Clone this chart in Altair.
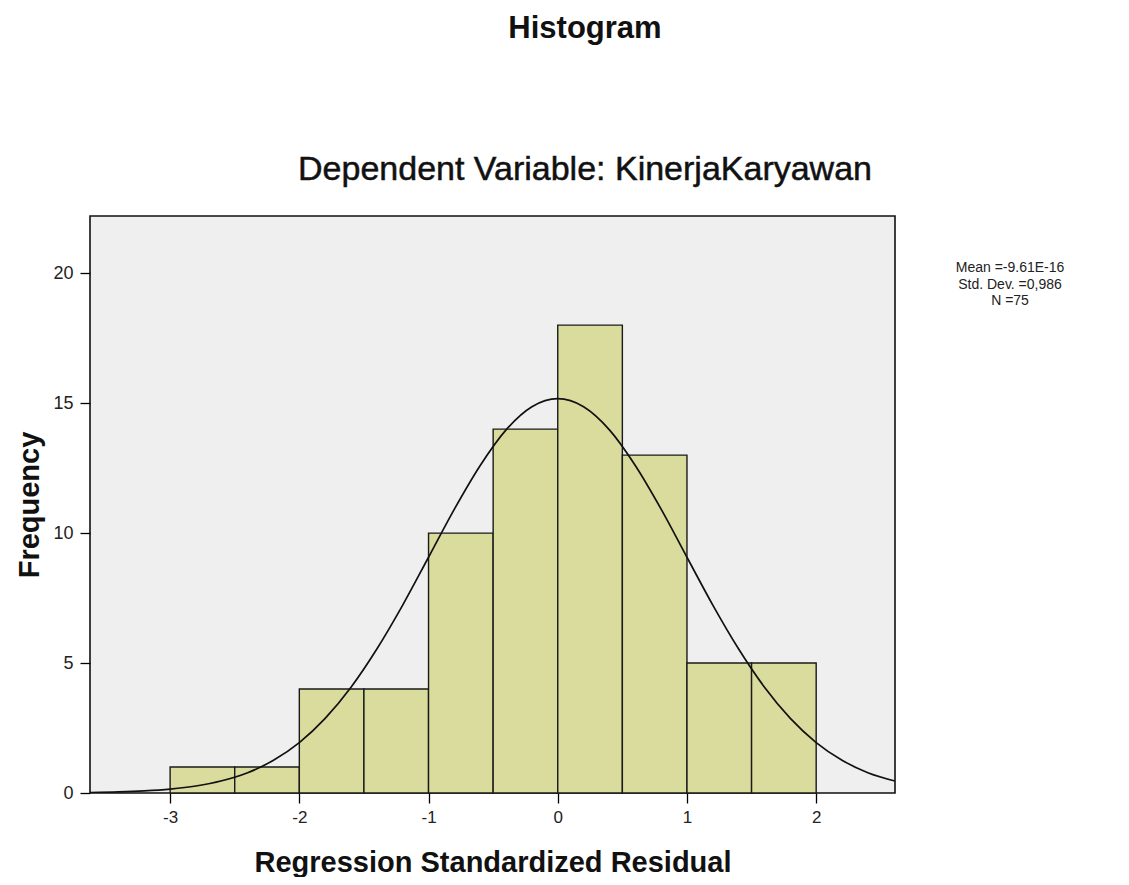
import altair as alt
import pandas as pd

# Histogram bins (lower edge, upper edge) and counts
bin_start = [-3.0, -2.5, -2.0, -1.5, -1.0, -0.5, 0.0, 0.5, 1.0, 1.5]
bin_end = [-2.5, -2.0, -1.5, -1.0, -0.5, 0.0, 0.5, 1.0, 1.5, 2.0]
counts = [1, 1, 4, 4, 10, 14, 18, 13, 5, 5]

# Normal curve
curve_x = [-3.62, -3.4, -3.2, -3.0, -2.8, -2.6, -2.4, -2.2, -2.0, -1.8, -1.6, -1.4, -1.2,
           -1.0, -0.8, -0.6, -0.4, -0.2, 0.0, 0.2, 0.4, 0.6, 0.8, 1.0, 1.2, 1.4, 1.6,
           1.8, 2.0, 2.2, 2.4, 2.61]
curve_y = [0.02, 0.04, 0.08, 0.15, 0.27, 0.47, 0.78, 1.26, 1.94, 2.87, 4.07, 5.54, 7.23,
           9.07, 10.92, 12.6, 13.97, 14.86, 15.17, 14.86, 13.97, 12.6, 10.92, 9.07, 7.23,
           5.54, 4.07, 2.87, 1.94, 1.26, 0.78, 0.46]

stats_lines = ["Mean =-9.61E-16", "Std. Dev. =0,986", "N =75"]
title_text = "Histogram"
subtitle_text = "Dependent Variable: KinerjaKaryawan"
x_title = "Regression Standardized Residual"
y_title = "Frequency"
x_ticks = [-3, -2, -1, 0, 1, 2]
y_ticks = [0, 5, 10, 15, 20]

FONT = "Liberation Sans"
W, H = 805, 577

bars_df = pd.DataFrame({"start": bin_start, "end": bin_end, "count": counts})
curve_df = pd.DataFrame({"x": curve_x, "y": curve_y})

xscale = alt.Scale(domain=[-3.62, 2.61], nice=False, zero=False)
yscale = alt.Scale(domain=[0, 22.2], nice=False)

xaxis = alt.Axis(values=x_ticks, title=x_title, grid=False, domain=False,
                 labelExpr="'' + datum.value",
                 tickColor="black", tickSize=10, tickWidth=1.3,
                 labelFont=FONT, labelFontSize=17, labelColor="#222222", labelPadding=6,
                 titleFont=FONT, titleFontSize=29, titleFontWeight="bold",
                 titleColor="#111111", titlePadding=23)
yaxis = alt.Axis(values=y_ticks, title=y_title, grid=False, domain=False,
                 labelExpr="'' + datum.value",
                 tickColor="black", tickSize=10, tickWidth=1.3,
                 labelFont=FONT, labelFontSize=18, labelColor="#222222", labelPadding=7,
                 titleFont=FONT, titleFontSize=29, titleFontWeight="bold",
                 titleColor="#111111", titlePadding=8)

bars = alt.Chart(bars_df).mark_bar(
    color="#d9dc9c", stroke="#1a1a1a", strokeWidth=1.4, opacity=1
).encode(
    x=alt.X("start:Q", scale=xscale, axis=xaxis),
    x2="end:Q",
    y=alt.Y("count:Q", scale=yscale, axis=yaxis),
    y2=alt.Y2(datum=0),
)

curve = alt.Chart(curve_df).mark_line(
    color="#111111", strokeWidth=1.7, interpolate="monotone", clip=True
).encode(
    x=alt.X("x:Q", scale=xscale),
    y=alt.Y("y:Q", scale=yscale),
)

one = pd.DataFrame({"a": [0]})

title_mark = alt.Chart(one).mark_text(
    text=title_text, font=FONT, fontSize=31, fontWeight="bold", color="#111111",
    align="center", baseline="middle"
).encode(x=alt.value(495), y=alt.value(-187))

subtitle_mark = alt.Chart(one).mark_text(
    text=subtitle_text, font=FONT, fontSize=34, color="#111111",
    stroke="#111111", strokeWidth=0.5,
    align="center", baseline="middle"
).encode(x=alt.value(495), y=alt.value(-46))

stats_marks = [
    alt.Chart(one).mark_text(
        text=line, font=FONT, fontSize=14, color="#222222",
        align="center", baseline="middle"
    ).encode(x=alt.value(920), y=alt.value(yy))
    for line, yy in zip(stats_lines, [52, 69, 85])
]

chart = alt.layer(bars, curve, title_mark, subtitle_mark, *stats_marks).properties(
    width=W, height=H,
    autosize=alt.AutoSizeParams(type="none"),
    padding={"left": 82, "top": 208, "right": 226, "bottom": 84},
    background="white",
).configure_view(
    fill="#efefef", stroke="#111111", strokeWidth=1.6
)

chart.save("out.html", embed_options={"renderer": "svg", "actions": False})
